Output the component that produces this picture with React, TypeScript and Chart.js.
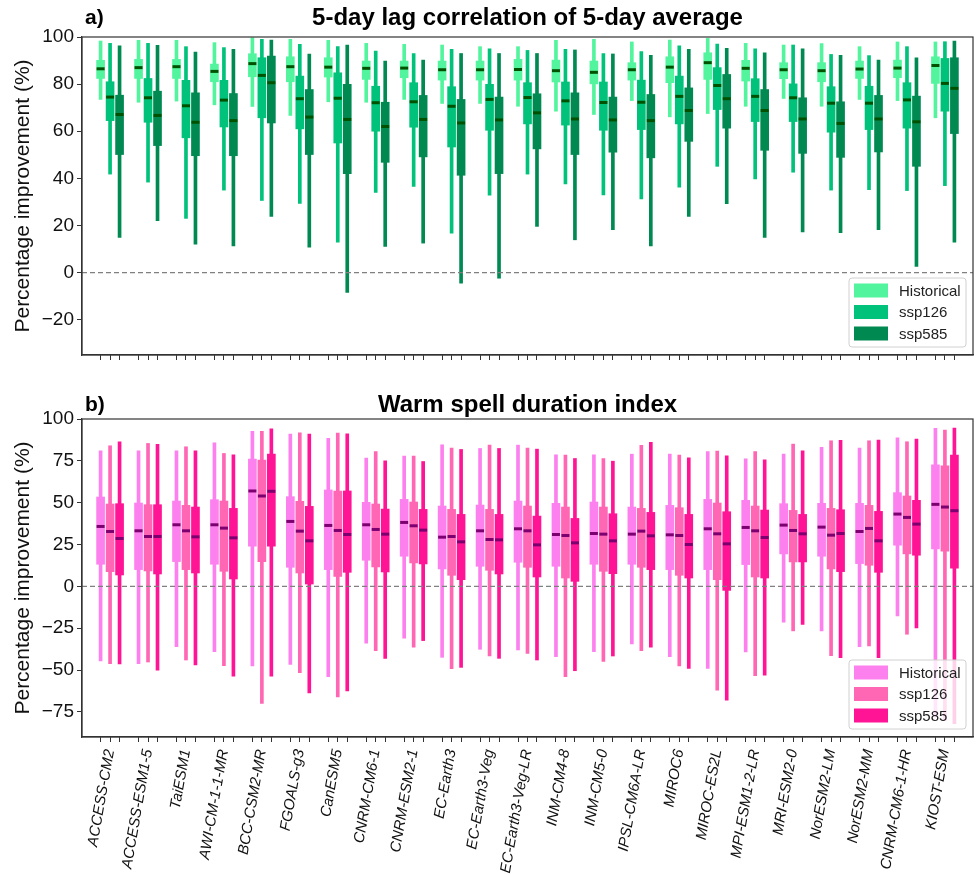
import { useEffect, useRef } from 'react';
import { Chart, registerables } from 'chart.js';

Chart.register(...registerables);

const FONT = "'Liberation Sans', Arial, Helvetica, sans-serif";

const models = [
  'ACCESS-CM2', 'ACCESS-ESM1-5', 'TaiESM1', 'AWI-CM-1-1-MR', 'BCC-CSM2-MR', 'FGOALS-g3',
  'CanESM5', 'CNRM-CM6-1', 'CNRM-ESM2-1', 'EC-Earth3', 'EC-Earth3-Veg', 'EC-Earth3-Veg-LR',
  'INM-CM4-8', 'INM-CM5-0', 'IPSL-CM6A-LR', 'MIROC6', 'MIROC-ES2L', 'MPI-ESM1-2-LR',
  'MRI-ESM2-0', 'NorESM2-LM', 'NorESM2-MM', 'CNRM-CM6-1-HR', 'KIOST-ESM',
];

const scenarios = ['Historical', 'ssp126', 'ssp585'];

// Each entry: [min, q1, median, q3, max]
const lagHistorical = [
  [73.5, 82.4, 86.5, 90.1, 98.3], [72.3, 82.4, 87.0, 90.5, 98.6], [72.8, 82.4, 87.4, 90.5, 98.6],
  [71.2, 81.0, 85.4, 88.5, 97.6], [70.5, 83.1, 88.7, 92.9, 99.7], [66.7, 81.0, 87.4, 91.6, 99.0],
  [72.5, 83.0, 87.2, 91.2, 98.6], [72.3, 82.0, 86.7, 89.8, 97.3], [73.5, 82.7, 86.8, 89.8, 96.9],
  [71.8, 81.7, 86.1, 89.8, 96.6], [71.8, 81.7, 86.1, 89.8, 95.9], [70.6, 81.7, 86.2, 90.5, 95.9],
  [68.5, 80.9, 85.7, 90.2, 98.6], [67.1, 80.1, 85.0, 89.8, 99.0], [73.0, 81.7, 86.1, 89.1, 97.9],
  [66.1, 80.6, 87.2, 91.6, 98.7], [67.5, 82.0, 89.1, 93.3, 99.4], [70.6, 81.3, 86.7, 90.1, 97.3],
  [73.9, 82.3, 86.1, 89.1, 96.6], [70.6, 81.0, 85.7, 89.1, 97.2], [73.5, 82.4, 86.4, 89.8, 95.9],
  [73.0, 82.7, 86.8, 90.2, 97.9], [65.7, 80.3, 87.9, 91.6, 97.9],
];

const lagSsp126 = [
  [41.8, 64.5, 74.5, 81.0, 97.3], [38.4, 63.8, 74.2, 82.4, 97.3], [23.0, 57.2, 70.8, 81.6, 95.9],
  [35.0, 61.8, 73.2, 81.6, 95.5], [30.6, 65.7, 83.7, 91.2, 99.0], [29.4, 61.0, 73.8, 83.4, 96.9],
  [12.9, 55.0, 74.0, 84.8, 95.9], [34.0, 60.0, 72.1, 79.1, 94.0], [36.6, 61.7, 72.5, 80.6, 93.0],
  [16.7, 53.3, 70.6, 78.9, 94.8], [32.9, 60.4, 73.5, 79.9, 95.0], [41.8, 63.1, 74.3, 80.6, 94.3],
  [37.6, 62.6, 72.9, 80.9, 94.8], [33.0, 60.4, 72.2, 80.9, 93.0], [31.3, 60.7, 72.3, 81.7, 93.8],
  [36.2, 63.1, 74.8, 83.4, 96.2], [45.1, 69.2, 79.4, 87.0, 97.0], [39.7, 64.1, 74.8, 82.3, 95.0],
  [42.6, 64.1, 74.2, 80.1, 96.6], [35.0, 59.6, 71.9, 78.9, 92.6], [35.2, 60.7, 71.9, 79.1, 92.1],
  [34.8, 61.3, 73.3, 80.6, 95.9], [36.9, 68.5, 80.3, 90.9, 98.0],
];

const lagSsp585 = [
  [14.9, 50.1, 67.1, 75.3, 96.2], [22.0, 53.9, 66.7, 77.0, 96.5], [12.1, 49.6, 63.8, 76.3, 93.6],
  [11.3, 49.6, 64.5, 76.0, 94.8], [23.8, 63.5, 80.6, 91.9, 98.7], [10.8, 50.1, 66.0, 77.7, 92.8],
  [-8.4, 42.0, 65.0, 79.9, 96.6], [11.1, 46.8, 62.0, 72.3, 89.8], [12.5, 49.1, 65.0, 75.2, 90.2],
  [-4.5, 41.3, 63.5, 73.5, 93.0], [-2.4, 42.0, 64.8, 74.5, 93.0], [19.6, 52.5, 67.8, 75.9, 93.0],
  [13.9, 50.1, 65.2, 76.3, 94.5], [18.2, 51.1, 64.8, 74.5, 92.8], [11.3, 48.7, 64.5, 75.6, 92.2],
  [23.8, 55.7, 68.8, 78.4, 94.8], [29.2, 61.3, 73.8, 84.1, 95.2], [14.9, 51.9, 68.8, 77.7, 93.3],
  [17.2, 50.6, 65.2, 74.2, 95.0], [16.9, 48.9, 63.3, 72.5, 92.2], [18.2, 51.2, 65.2, 75.2, 90.2],
  [2.6, 45.1, 64.0, 74.9, 91.2], [12.9, 59.0, 78.2, 91.2, 98.3],
];

const wsdiHistorical = [
  [-44.6, 13.2, 35.8, 53.4, 81.0], [-46.2, 10.0, 33.2, 49.8, 81.0], [-36.0, 14.8, 36.8, 51.0, 81.0],
  [-39.0, 13.2, 36.8, 51.8, 85.8], [-47.6, 24.0, 57.0, 76.0, 92.6], [-46.6, 11.4, 38.8, 53.6, 91.0],
  [-54.0, 10.0, 36.4, 57.6, 88.4], [-34.0, 15.6, 36.8, 50.2, 76.6], [-31.0, 18.0, 38.2, 52.0, 77.8],
  [-42.4, 10.4, 29.4, 48.0, 84.6], [-37.6, 12.0, 33.2, 48.6, 82.4], [-38.0, 14.4, 34.4, 51.0, 84.4],
  [-42.0, 12.0, 31.0, 49.6, 78.6], [-39.0, 13.2, 31.6, 50.4, 78.6], [-34.4, 13.2, 31.2, 47.4, 79.0],
  [-42.0, 10.0, 30.8, 48.4, 79.0], [-49.0, 10.0, 34.4, 52.0, 80.6], [-39.2, 13.0, 35.2, 51.4, 76.2],
  [-21.4, 19.4, 36.6, 49.4, 79.0], [-26.6, 18.0, 35.4, 49.6, 83.0], [-36.0, 13.6, 32.8, 49.6, 82.6],
  [-17.6, 24.6, 43.2, 56.0, 88.8], [-78.0, 22.4, 49.0, 72.6, 94.4],
];

const wsdiSsp126 = [
  [-46.2, 8.8, 32.8, 49.2, 84.0], [-45.2, 9.2, 29.8, 48.8, 85.4], [-44.0, 10.0, 33.2, 48.4, 83.4],
  [-47.4, 9.0, 34.8, 51.0, 79.4], [-70.0, 14.8, 54.0, 75.4, 92.6], [-51.6, 8.0, 33.0, 50.8, 91.8],
  [-66.0, 6.0, 33.4, 57.0, 91.6], [-38.4, 11.6, 34.0, 49.2, 80.6], [-36.4, 14.0, 36.2, 50.4, 77.8],
  [-49.2, 6.6, 29.8, 46.0, 82.6], [-41.6, 9.6, 28.0, 46.0, 84.4], [-40.0, 11.4, 33.2, 48.0, 82.6],
  [-54.0, 5.0, 30.4, 47.4, 78.4], [-44.8, 9.0, 31.2, 47.4, 76.4], [-38.4, 11.4, 33.0, 46.6, 84.2],
  [-47.6, 6.6, 30.4, 47.0, 78.4], [-62.0, 4.0, 31.4, 49.8, 80.8], [-53.4, 5.6, 33.2, 48.0, 80.6],
  [-26.6, 14.6, 33.4, 45.4, 85.0], [-41.4, 10.4, 30.6, 46.6, 87.0], [-35.6, 12.6, 34.6, 48.4, 87.0],
  [-28.6, 19.4, 41.2, 54.0, 86.4], [-80.0, 21.0, 47.4, 72.0, 93.4],
];

const wsdiSsp585 = [
  [-46.4, 6.8, 28.6, 49.4, 86.4], [-50.0, 7.4, 29.8, 48.8, 84.8], [-47.0, 8.0, 29.6, 47.4, 81.0],
  [-53.6, 4.4, 29.0, 46.6, 78.6], [-53.6, 24.0, 56.8, 79.0, 94.2], [-63.6, 1.4, 27.2, 47.8, 91.0],
  [-62.4, 8.4, 31.0, 57.0, 91.2], [-43.0, 8.6, 31.2, 46.2, 75.0], [-32.4, 13.4, 33.6, 46.0, 74.6],
  [-48.4, 4.0, 26.6, 43.0, 81.8], [-43.0, 7.4, 27.8, 43.0, 82.4], [-44.0, 5.6, 24.8, 42.0, 82.0],
  [-50.4, 3.0, 26.0, 40.6, 76.4], [-41.6, 7.6, 27.2, 43.4, 74.8], [-36.4, 10.0, 30.2, 44.2, 86.0],
  [-49.0, 5.0, 25.0, 43.0, 76.8], [-68.0, -2.4, 25.4, 44.6, 78.0], [-53.0, 5.0, 29.2, 45.6, 75.6],
  [-22.8, 14.6, 31.4, 43.0, 81.0], [-42.6, 8.8, 31.6, 45.8, 87.2], [-42.6, 8.4, 27.2, 44.8, 87.4],
  [-24.8, 18.6, 37.2, 51.4, 88.0], [-82.0, 10.8, 45.2, 78.4, 94.6],
];

const lagTicks = [-20, 0, 20, 40, 60, 80, 100];
const wsdiTicks = [-75, -50, -25, 0, 25, 50, 75, 100];

const greens = ['#52f59e', '#00c27a', '#008a52'];
const pinks = ['#fd80ef', '#ff66b4', '#ff1496'];

// Boxes of one model sit at the model index plus these offsets
const seriesOffsets = [-0.25, 0, 0.25];
const X_MIN = -0.74;
const X_MAX = 22.74;
const boxPositions = models.flatMap((_, i) => seriesOffsets.map((o) => i + o));

type PanelSpec = {
  letter: string;
  title: string;
  series: number[][][];
  colors: string[];
  medianColor: string;
  yMin: number;
  yMax: number;
  yTicks: number[];
  showLabels: boolean;
  top: number;
  height: number;
  padTop: number;
  xAxisHeight: number;
  titleY: number;
};

const panels: PanelSpec[] = [
  {
    letter: 'a)',
    title: '5-day lag correlation of 5-day average',
    series: [lagHistorical, lagSsp126, lagSsp585],
    colors: greens,
    medianColor: '#005200',
    yMin: -35,
    yMax: 100,
    yTicks: lagTicks,
    showLabels: false,
    top: 0,
    height: 375,
    padTop: 37,
    xAxisHeight: 20,
    titleY: 18.5,
  },
  {
    letter: 'b)',
    title: 'Warm spell duration index',
    series: [wsdiHistorical, wsdiSsp126, wsdiSsp585],
    colors: pinks,
    medianColor: '#7c0070',
    yMin: -90,
    yMax: 100,
    yTicks: wsdiTicks,
    showLabels: true,
    top: 375,
    height: 500,
    padTop: 44,
    xAxisHeight: 138,
    titleY: 30.5,
  },
];

const minusLabel = (v: number) => (v < 0 ? '\u2212' + Math.abs(v) : String(v));

function buildDatasets(spec: PanelSpec) {
  const ds: any[] = [
    {
      type: 'line',
      data: [{ x: X_MIN, y: 0 }, { x: X_MAX, y: 0 }],
      borderColor: '#808080',
      borderWidth: 1.2,
      borderDash: [5, 3],
      pointRadius: 0,
      order: 0,
    },
  ];
  spec.series.forEach((stats, k) => {
    const at = (i: number) => i + seriesOffsets[k];
    ds.push({
      type: 'bar',
      data: stats.map((s, i) => ({ x: at(i), y: [s[0], s[4]] })),
      backgroundColor: spec.colors[k],
      borderWidth: 0,
      barThickness: 3,
      grouped: false,
      order: 3,
    });
    ds.push({
      type: 'bar',
      data: stats.map((s, i) => ({ x: at(i), y: [s[1], s[3]] })),
      backgroundColor: spec.colors[k],
      borderWidth: 0,
      barThickness: 8,
      grouped: false,
      order: 2,
    });
    ds.push({
      type: 'line',
      data: stats.map((s, i) => ({ x: at(i), y: s[2] })),
      showLine: false,
      pointStyle: 'line',
      pointRadius: 4,
      pointBorderWidth: 3,
      pointBorderColor: spec.medianColor,
      borderColor: spec.medianColor,
      order: 1,
    });
  });
  return ds;
}

function decorPlugin(spec: PanelSpec) {
  return {
    id: 'panelDecor',
    afterDatasetsDraw(chart: any) {
      const { ctx, chartArea: a } = chart;
      ctx.save();
      ctx.strokeStyle = '#333';
      ctx.lineWidth = 1.2;
      ctx.strokeRect(a.left, a.top, a.right - a.left, a.bottom - a.top);

      // legend box in the lower right corner
      const w = 117;
      const h = 69;
      const x0 = a.right - 7 - w;
      const y0 = a.bottom - 8 - h;
      ctx.beginPath();
      ctx.roundRect(x0, y0, w, h, 3);
      ctx.fillStyle = 'rgba(255,255,255,0.8)';
      ctx.fill();
      ctx.strokeStyle = '#d0d0d0';
      ctx.lineWidth = 1;
      ctx.stroke();
      ctx.font = `15px ${FONT}`;
      ctx.textBaseline = 'middle';
      ctx.textAlign = 'left';
      scenarios.forEach((name, k) => {
        const cy = y0 + 12.5 + k * 21.5;
        ctx.fillStyle = spec.colors[k];
        ctx.fillRect(x0 + 5, cy - 7, 34, 14);
        ctx.fillStyle = '#222';
        ctx.fillText(name, x0 + 50, cy + 1);
      });
      ctx.restore();
    },
    afterDraw(chart: any) {
      const { ctx, chartArea: a } = chart;
      ctx.save();
      ctx.fillStyle = '#000';
      ctx.textBaseline = 'middle';
      ctx.font = `bold 24px ${FONT}`;
      ctx.textAlign = 'center';
      ctx.fillText(spec.title, (a.left + a.right) / 2, spec.titleY);
      ctx.font = `bold 21px ${FONT}`;
      ctx.textAlign = 'left';
      ctx.fillText(spec.letter, 85, spec.titleY);
      ctx.restore();
    },
  };
}

function buildConfig(spec: PanelSpec): any {
  const tickGrid = {
    display: true,
    drawOnChartArea: false,
    drawTicks: true,
    tickLength: 5,
    tickColor: '#333',
    tickWidth: 1,
    offset: false,
  };
  return {
    type: 'bar',
    data: { datasets: buildDatasets(spec) },
    plugins: [decorPlugin(spec)],
    options: {
      responsive: false,
      animation: false,
      events: [],
      layout: { padding: { top: spec.padTop, right: 2, left: 0, bottom: 0 } },
      plugins: {
        legend: { display: false },
        tooltip: { enabled: false },
        title: { display: false },
      },
      scales: {
        x: {
          type: 'linear',
          min: X_MIN,
          max: X_MAX,
          bounds: 'data',
          offset: false,
          grid: tickGrid,
          border: { display: true, color: '#333', width: 1.2 },
          afterBuildTicks: (axis: any) => {
            axis.ticks = boxPositions.map((v) => ({ value: v }));
          },
          afterFit: (axis: any) => {
            axis.height = spec.xAxisHeight;
          },
          ticks: {
            display: spec.showLabels,
            autoSkip: false,
            minRotation: 80,
            maxRotation: 80,
            padding: 6,
            color: '#111',
            font: { family: FONT, size: 15, style: 'italic' },
            callback: (_v: number, idx: number) => (idx % 3 === 1 ? models[(idx - 1) / 3] : ''),
          },
        },
        y: {
          type: 'linear',
          min: spec.yMin,
          max: spec.yMax,
          bounds: 'data',
          grid: tickGrid,
          border: { display: true, color: '#333', width: 1.2 },
          afterBuildTicks: (axis: any) => {
            axis.ticks = spec.yTicks.map((v) => ({ value: v }));
          },
          afterFit: (axis: any) => {
            axis.width = 82;
          },
          ticks: {
            padding: 3,
            color: '#111',
            font: { family: FONT, size: 19 },
            callback: (v: number) => minusLabel(v),
          },
          title: {
            display: true,
            text: 'Percentage improvement (%)',
            color: '#111',
            font: { family: FONT, size: 21 },
            padding: { top: 11, bottom: 0 },
          },
        },
      },
    },
  };
}

function Panel({ spec }: { spec: PanelSpec }) {
  const ref = useRef<HTMLCanvasElement>(null);
  useEffect(() => {
    if (!ref.current) return;
    const chart = new Chart(ref.current, buildConfig(spec));
    return () => chart.destroy();
  }, [spec]);
  return (
    <canvas
      ref={ref}
      width={980}
      height={spec.height}
      style={{ position: 'absolute', left: 0, top: spec.top, width: 980, height: spec.height }}
    />
  );
}

export default function App() {
  return (
    <div
      style={{
        position: 'absolute',
        left: 0,
        top: 0,
        width: 980,
        height: 875,
        overflow: 'hidden',
        background: '#fff',
      }}
    >
      {panels.map((p) => (
        <Panel key={p.letter} spec={p} />
      ))}
    </div>
  );
}
